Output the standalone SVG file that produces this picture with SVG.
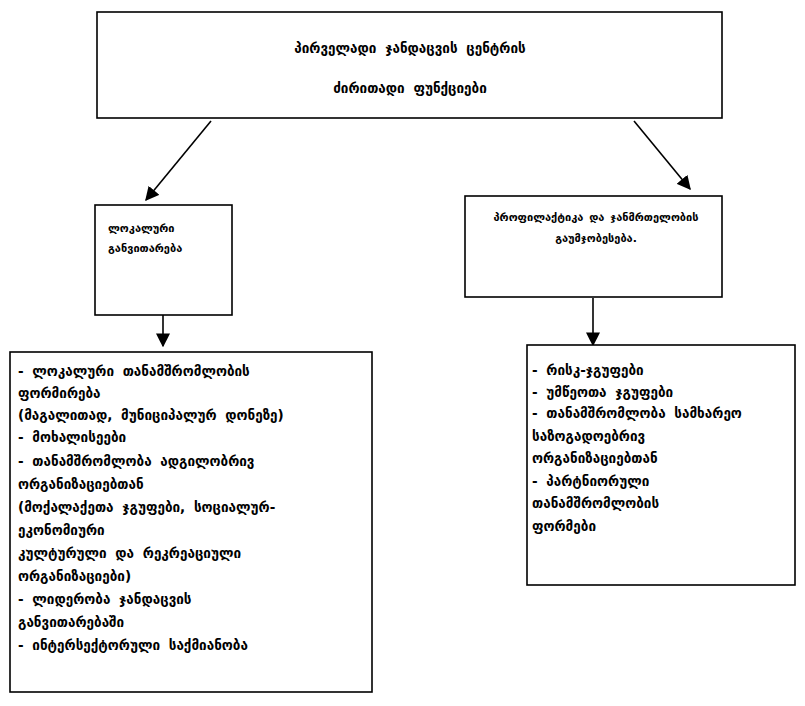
<svg xmlns="http://www.w3.org/2000/svg" width="805" height="706" viewBox="0 0 805 706">
<style>
.box{fill:#fff;stroke:#000;stroke-width:1.6}
.t{font-family:"DejaVu Sans","Noto Sans",sans-serif;font-weight:bold;fill:#000}
.big{font-size:13.5px;word-spacing:4px}
.mid{font-size:11px;word-spacing:2px}
.txt{font-size:13.5px;word-spacing:4px}
.con{stroke:#000;stroke-width:1.6;fill:none}
</style>
<defs>
<marker id="ah2" viewBox="0 0 10 10" refX="9" refY="5" markerWidth="14" markerHeight="14" markerUnits="userSpaceOnUse" orient="auto">
<path d="M0,0 L10,5 L0,10 z" fill="#000"/>
</marker>
</defs>
<rect width="805" height="706" fill="#fff"/>
<g id="connectors">
<line class="con" x1="211" y1="121" x2="146" y2="200" marker-end="url(#ah2)"/>
<line class="con" x1="634" y1="121" x2="690" y2="189" marker-end="url(#ah2)"/>
<line class="con" x1="163" y1="289" x2="163" y2="346" marker-end="url(#ah2)"/>
<line class="con" x1="593" y1="298" x2="593" y2="345" marker-end="url(#ah2)"/>
</g>
<g id="center">
<rect class="box" x="97" y="12" width="625" height="106"/>
<text class="t big" x="410" y="53" text-anchor="middle">პირველადი ჯანდაცვის ცენტრის</text>
<text class="t big" x="410" y="93" text-anchor="middle">ძირითადი ფუნქციები</text>
</g>
<g id="local">
<rect class="box" x="95" y="205" width="137" height="110"/>
<text class="t mid" x="108" y="232">ლოკალური</text>
<text class="t mid" x="108" y="252">განვითარება</text>
</g>
<g id="prevention">
<rect class="box" x="465" y="196" width="257" height="101"/>
<text class="t mid" x="596" y="221" text-anchor="middle">პროფილაქტიკა და ჯანმრთელობის</text>
<text class="t mid" x="596" y="242" text-anchor="middle">გაუმჯობესება.</text>
</g>
<g id="local-list">
<rect class="box" x="10" y="352" width="362" height="340"/>
<text class="t txt">
<tspan x="18" y="376">- ლოკალური თანამშრომლობის</tspan>
<tspan x="18" y="398">ფორმირება</tspan>
<tspan x="18" y="420">(მაგალითად, მუნიციპალურ დონეზე)</tspan>
<tspan x="18" y="442">- მოხალისეები</tspan>
<tspan x="18" y="466">- თანამშრომლობა ადგილობრივ</tspan>
<tspan x="18" y="489">ორგანიზაციებთან</tspan>
<tspan x="18" y="512">(მოქალაქეთა ჯგუფები, სოციალურ-</tspan>
<tspan x="18" y="535">ეკონომიური</tspan>
<tspan x="18" y="558">კულტურული  და რეკრეაციული</tspan>
<tspan x="18" y="581">ორგანიზაციები)</tspan>
<tspan x="18" y="604">- ლიდერობა ჯანდაცვის</tspan>
<tspan x="18" y="627">განვითარებაში</tspan>
<tspan x="18" y="650">- ინტერსექტორული საქმიანობა</tspan>
</text>
</g>
<g id="prevention-list">
<rect class="box" x="527" y="345" width="268" height="240"/>
<text class="t txt">
<tspan x="532" y="375">- რისკ-ჯგუფები</tspan>
<tspan x="532" y="397">- უმწეოთა ჯგუფები</tspan>
<tspan x="532" y="418">- თანამშრომლობა სამხარეო</tspan>
<tspan x="532" y="441">საზოგადოებრივ</tspan>
<tspan x="532" y="463">ორგანიზაციებთან</tspan>
<tspan x="532" y="486">- პარტნიორული</tspan>
<tspan x="532" y="508">თანამშრომლობის</tspan>
<tspan x="532" y="531">ფორმები</tspan>
</text>
</g>
</svg>
